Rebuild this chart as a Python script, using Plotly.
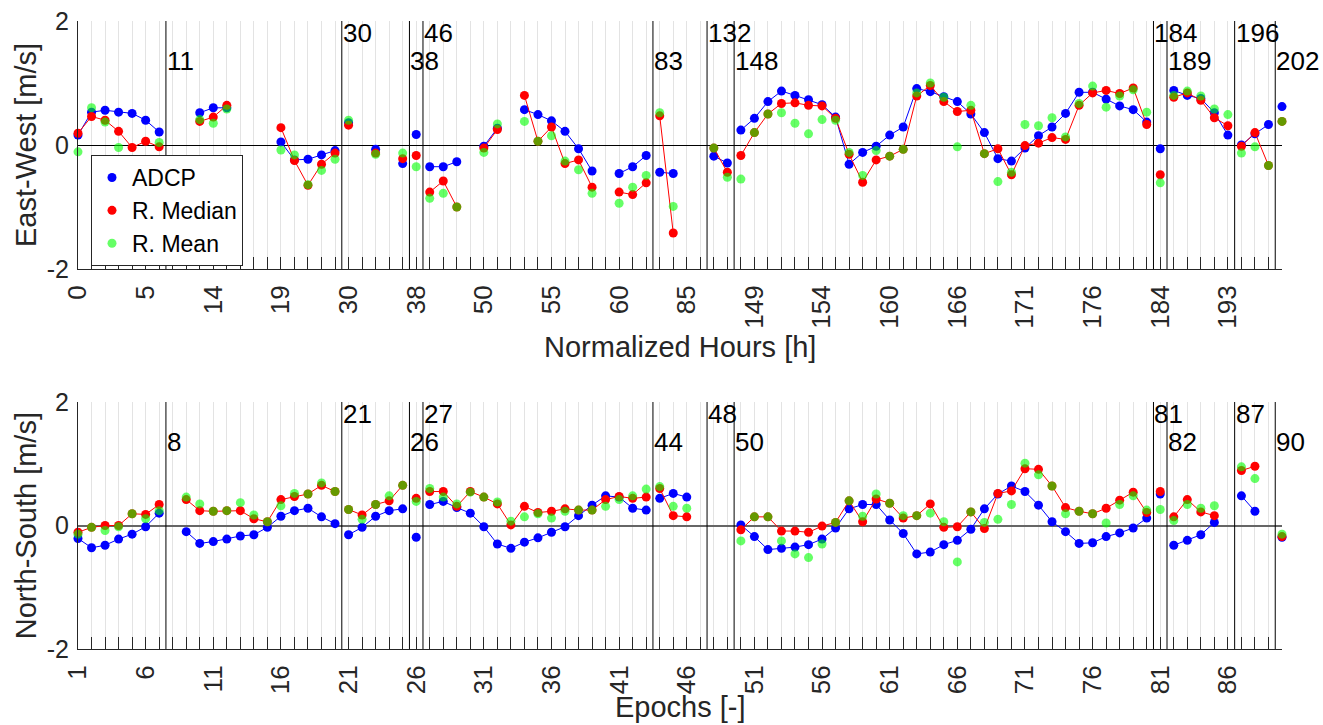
import plotly.graph_objects as go

# ---- data (one value per slot 1..90, None = no estimate) ----
ew_adcp = [0.16, 0.53, 0.56, 0.53, 0.51, 0.40, 0.21, None, None, 0.52,
           0.60, 0.60, None, None, None, 0.05, -0.24, -0.23, -0.16, -0.09,
           0.36, None, -0.07, None, -0.30, 0.17, -0.35, -0.35, -0.27, None,
           -0.02, 0.27, None, 0.57, 0.49, 0.39, 0.22, -0.06, -0.42, None,
           -0.46, -0.35, -0.17, -0.44, -0.46, None, None, -0.18, -0.29, 0.24,
           0.43, 0.70, 0.87, 0.80, 0.73, 0.65, 0.45, -0.31, -0.12, -0.02,
           0.16, 0.29, 0.91, 0.86, 0.78, 0.70, 0.50, 0.20, -0.22, -0.26,
           -0.05, 0.15, 0.29, 0.51, 0.85, 0.85, 0.74, 0.63, 0.57, 0.37,
           -0.06, 0.88, 0.80, 0.75, 0.52, 0.16, 0.00, 0.18, 0.33, 0.62]
ew_median = [0.19, 0.46, 0.40, 0.22, -0.04, 0.06, -0.03, None, None, 0.38,
             0.45, 0.64, None, None, None, 0.28, -0.25, -0.65, -0.31, -0.13,
             0.32, None, -0.13, None, -0.22, -0.17, -0.76, -0.58, -1.00, None,
             -0.05, 0.25, None, 0.80, 0.06, 0.29, -0.30, -0.24, -0.68, None,
             -0.76, -0.80, -0.61, 0.47, -1.42, None, None, -0.05, -0.44, -0.17,
             0.20, 0.50, 0.67, 0.68, 0.64, 0.63, 0.43, -0.15, -0.60, -0.24,
             -0.18, -0.07, 0.79, 0.96, 0.70, 0.54, 0.56, -0.14, -0.06, -0.48,
             -0.01, 0.03, 0.12, 0.09, 0.64, 0.84, 0.88, 0.83, 0.92, 0.33,
             -0.48, 0.77, 0.84, 0.72, 0.44, 0.31, -0.02, 0.20, -0.33, 0.38]
ew_mean = [-0.11, 0.60, 0.37, -0.04, None, None, 0.04, None, None, 0.41,
           0.35, 0.58, None, None, None, -0.08, -0.16, -0.64, -0.41, -0.23,
           0.40, None, -0.15, None, -0.13, -0.35, -0.86, -0.78, -1.00, None,
           -0.12, 0.34, None, 0.38, 0.06, 0.15, -0.26, -0.40, -0.78, None,
           -0.94, -0.68, -0.49, 0.52, -0.99, None, None, -0.05, -0.52, -0.55,
           0.20, 0.50, 0.52, 0.35, 0.18, 0.41, 0.40, -0.12, -0.49, -0.09,
           -0.18, -0.07, 0.84, 1.00, 0.77, -0.03, 0.64, -0.14, -0.59, -0.44,
           0.33, 0.31, 0.44, 0.13, 0.67, 0.95, 0.61, 0.79, 0.89, 0.53,
           -0.61, 0.80, 0.87, 0.79, 0.58, 0.49, -0.13, -0.03, -0.33, 0.38]

ns_adcp = [-0.21, -0.36, -0.32, -0.22, -0.14, -0.02, 0.20, None, -0.10, -0.29,
           -0.26, -0.22, -0.17, -0.15, -0.03, 0.15, 0.24, 0.28, 0.14, 0.03,
           -0.15, -0.03, 0.15, 0.24, 0.27, -0.19, 0.34, 0.39, 0.29, 0.20,
           -0.02, -0.30, -0.37, -0.27, -0.20, -0.11, -0.02, 0.16, 0.33, 0.48,
           0.46, 0.28, 0.25, 0.44, 0.52, 0.46, None, None, None, 0.01,
           -0.18, -0.39, -0.37, -0.35, -0.31, -0.22, -0.04, 0.27, 0.34, 0.34,
           0.09, -0.13, -0.46, -0.43, -0.31, -0.24, -0.06, 0.27, 0.51, 0.64,
           0.55, 0.33, 0.06, -0.10, -0.29, -0.28, -0.18, -0.12, -0.04, 0.12,
           0.51, -0.32, -0.24, -0.15, 0.05, None, 0.48, 0.23, None, -0.19]
ns_median = [-0.11, -0.03, 0.00, 0.00, 0.19, 0.18, 0.34, None, 0.42, 0.24,
             0.23, 0.24, 0.24, 0.11, 0.06, 0.42, 0.47, 0.51, 0.65, 0.55,
             0.26, 0.17, 0.34, 0.40, 0.65, 0.44, 0.55, 0.55, 0.31, 0.55,
             0.46, 0.35, 0.01, 0.31, 0.21, 0.23, 0.27, 0.25, 0.25, 0.42,
             0.47, 0.44, 0.46, 0.60, 0.16, 0.14, None, None, None, -0.07,
             0.14, 0.14, -0.09, -0.09, -0.11, -0.01, 0.05, 0.40, 0.06, 0.43,
             0.36, 0.12, 0.16, 0.35, -0.03, -0.02, 0.22, -0.05, 0.52, 0.56,
             0.92, 0.91, 0.64, 0.29, 0.23, 0.19, 0.28, 0.41, 0.54, 0.21,
             0.55, 0.14, 0.42, 0.22, 0.16, None, 0.89, 0.96, None, -0.18]
ns_mean = [-0.14, -0.03, -0.08, -0.02, 0.19, 0.11, 0.24, None, 0.46, 0.35,
           0.23, 0.24, 0.37, 0.17, 0.06, 0.32, 0.52, 0.51, 0.69, 0.55,
           0.26, 0.10, 0.34, 0.48, 0.65, 0.39, 0.60, 0.46, 0.35, 0.54,
           0.46, 0.38, 0.07, 0.14, 0.19, 0.12, 0.23, 0.25, 0.25, 0.31,
           0.42, 0.48, 0.59, 0.63, 0.31, 0.28, None, None, None, -0.25,
           0.14, 0.14, -0.25, -0.46, -0.52, -0.30, 0.05, 0.40, 0.15, 0.51,
           0.36, 0.16, 0.16, 0.20, 0.06, -0.59, 0.22, 0.05, 0.10, 0.34,
           1.01, 0.82, 0.64, 0.19, 0.23, 0.19, 0.04, 0.34, 0.48, 0.25,
           0.26, 0.08, 0.34, 0.28, 0.32, None, 0.95, 0.76, None, -0.14]

# slots where a new record segment begins, with its start hour / start epoch
segment_starts = [8, 21, 26, 27, 44, 48, 50, 81, 82, 87, 90]
segment_hours = ["11", "30", "38", "46", "83", "132", "148", "184", "189", "196", "202"]
segment_epochs = ["8", "21", "26", "27", "44", "48", "50", "81", "82", "87", "90"]

tick_slots = [1, 6, 11, 16, 21, 26, 31, 36, 41, 46, 51, 56, 61, 66, 71, 76, 81, 86]
hour_labels = ["0", "5", "14", "19", "30", "38", "50", "55", "60", "85",
               "149", "154", "160", "166", "171", "176", "184", "193"]
epoch_labels = ["1", "6", "11", "16", "21", "26", "31", "36", "41", "46",
                "51", "56", "61", "66", "71", "76", "81", "86"]

N_SLOTS = 90
FONT = "Liberation Sans, Arial, sans-serif"
TXT = "#262626"
GRID = "#e3e3e3"
BLUE, RED, GREEN = "#0000ff", "#ff0000", "rgba(0,255,0,0.6)"


def broken(vals):
    """x/y lists with a gap at every segment boundary so lines do not bridge it."""
    xs, ys = [], []
    for i, v in enumerate(vals, start=1):
        if i in segment_starts:
            xs.append(i - 0.5)
            ys.append(None)
        xs.append(i)
        ys.append(v)
    return xs, ys


fig = go.Figure()


def add_panel(adcp, median, mean, xa, ya, legend):
    bx, by = broken(adcp)
    rx, ry = broken(median)
    gx, gy = broken(mean)
    fig.add_trace(go.Scatter(x=bx, y=by, mode="lines", line=dict(color=BLUE, width=1),
                             xaxis=xa, yaxis=ya, showlegend=False, hoverinfo="skip"))
    fig.add_trace(go.Scatter(x=bx, y=by, mode="markers", name="ADCP",
                             marker=dict(color=BLUE, size=9), cliponaxis=False,
                             xaxis=xa, yaxis=ya, showlegend=legend))
    fig.add_trace(go.Scatter(x=rx, y=ry, mode="lines", line=dict(color=RED, width=1),
                             xaxis=xa, yaxis=ya, showlegend=False, hoverinfo="skip"))
    fig.add_trace(go.Scatter(x=rx, y=ry, mode="markers", name="R. Median",
                             marker=dict(color=RED, size=9), cliponaxis=False,
                             xaxis=xa, yaxis=ya, showlegend=legend))
    fig.add_trace(go.Scatter(x=gx, y=gy, mode="markers", name="R. Mean",
                             marker=dict(color=GREEN, size=9), cliponaxis=False,
                             xaxis=xa, yaxis=ya, showlegend=legend))


add_panel(ew_adcp, ew_median, ew_mean, "x", "y", True)
add_panel(ns_adcp, ns_median, ns_mean, "x2", "y2", False)

# segment boundaries and their labels (alternating low / high rows)
for xa, ya, labels in (("x", "y", segment_hours), ("x2", "y2", segment_epochs)):
    for k, (s, lab) in enumerate(zip(segment_starts, labels)):
        fig.add_shape(type="line", xref=xa, yref=ya, x0=s - 0.5, x1=s - 0.5,
                      y0=-2, y1=2, line=dict(color="black", width=1), layer="between")
        fig.add_annotation(xref=xa, yref=ya, x=s - 0.5, y=1.35 if k % 2 == 0 else 1.81,
                           text=lab, showarrow=False, xanchor="left", yanchor="middle",
                           borderpad=0, font=dict(family=FONT, size=26, color="black"))


def xaxis_style(ticktext, anchor):
    return dict(
        anchor=anchor, range=[1, N_SLOTS], tickmode="array", tickvals=tick_slots,
        ticktext=ticktext, tickangle=-90, ticks="inside", ticklen=12, tickwidth=1,
        tickcolor=TXT, showgrid=True, gridcolor=GRID, gridwidth=1, zeroline=False,
        showline=True, linecolor=TXT, linewidth=1, ticklabelstandoff=5,
        tickfont=dict(family=FONT, size=26, color=TXT),
        minor=dict(tickmode="array", tickvals=list(range(1, N_SLOTS + 1)),
                   ticks="inside", ticklen=12, tickwidth=1, tickcolor=TXT,
                   showgrid=True, gridcolor=GRID, gridwidth=1),
    )


def yaxis_style(domain, anchor, zcolor, zwidth):
    return dict(
        anchor=anchor, domain=domain, range=[-2, 2], tickmode="array",
        tickvals=[-2, 0, 2], ticktext=["-2", "0", "2"], ticks="",
        showgrid=True, gridcolor=GRID, gridwidth=1, zeroline=True,
        zerolinecolor=zcolor, zerolinewidth=zwidth, showline=True, linecolor=TXT,
        linewidth=1, ticklabelstandoff=3,
        tickfont=dict(family=FONT, size=25, color=TXT),
    )


fig.update_layout(
    width=1323, height=725,
    margin=dict(l=78, r=41, t=21, b=76, autoexpand=False),
    paper_bgcolor="white", plot_bgcolor="white",
    font=dict(family=FONT, color=TXT),
    xaxis=xaxis_style(hour_labels, "y"),
    yaxis=yaxis_style([0.6051, 1.0], "x", "black", 1),
    xaxis2=xaxis_style(epoch_labels, "y2"),
    yaxis2=yaxis_style([0.0, 0.3933], "x2", "#666666", 2),
    legend=dict(x=0.0108, y=0.7866, xanchor="left", yanchor="top",
                bgcolor="white", bordercolor=TXT, borderwidth=1,
                font=dict(family=FONT, size=23, color="black"),
                tracegroupgap=0, itemwidth=30),
    showlegend=True,
)

# axis titles
titles = [
    dict(text="East-West [m/s]", x=-0.0432, y=0.8025, textangle=-90),
    dict(text="North-South [m/s]", x=-0.0432, y=0.197, textangle=-90),
    dict(text="Normalized Hours [h]", x=0.5, y=0.481, textangle=0),
    dict(text="Epochs [-]", x=0.5, y=-0.093, textangle=0),
]
for t in titles:
    fig.add_annotation(xref="paper", yref="paper", showarrow=False,
                       xanchor="center", yanchor="middle",
                       font=dict(family=FONT, size=29, color=TXT), **t)

fig.write_html("out.html")
